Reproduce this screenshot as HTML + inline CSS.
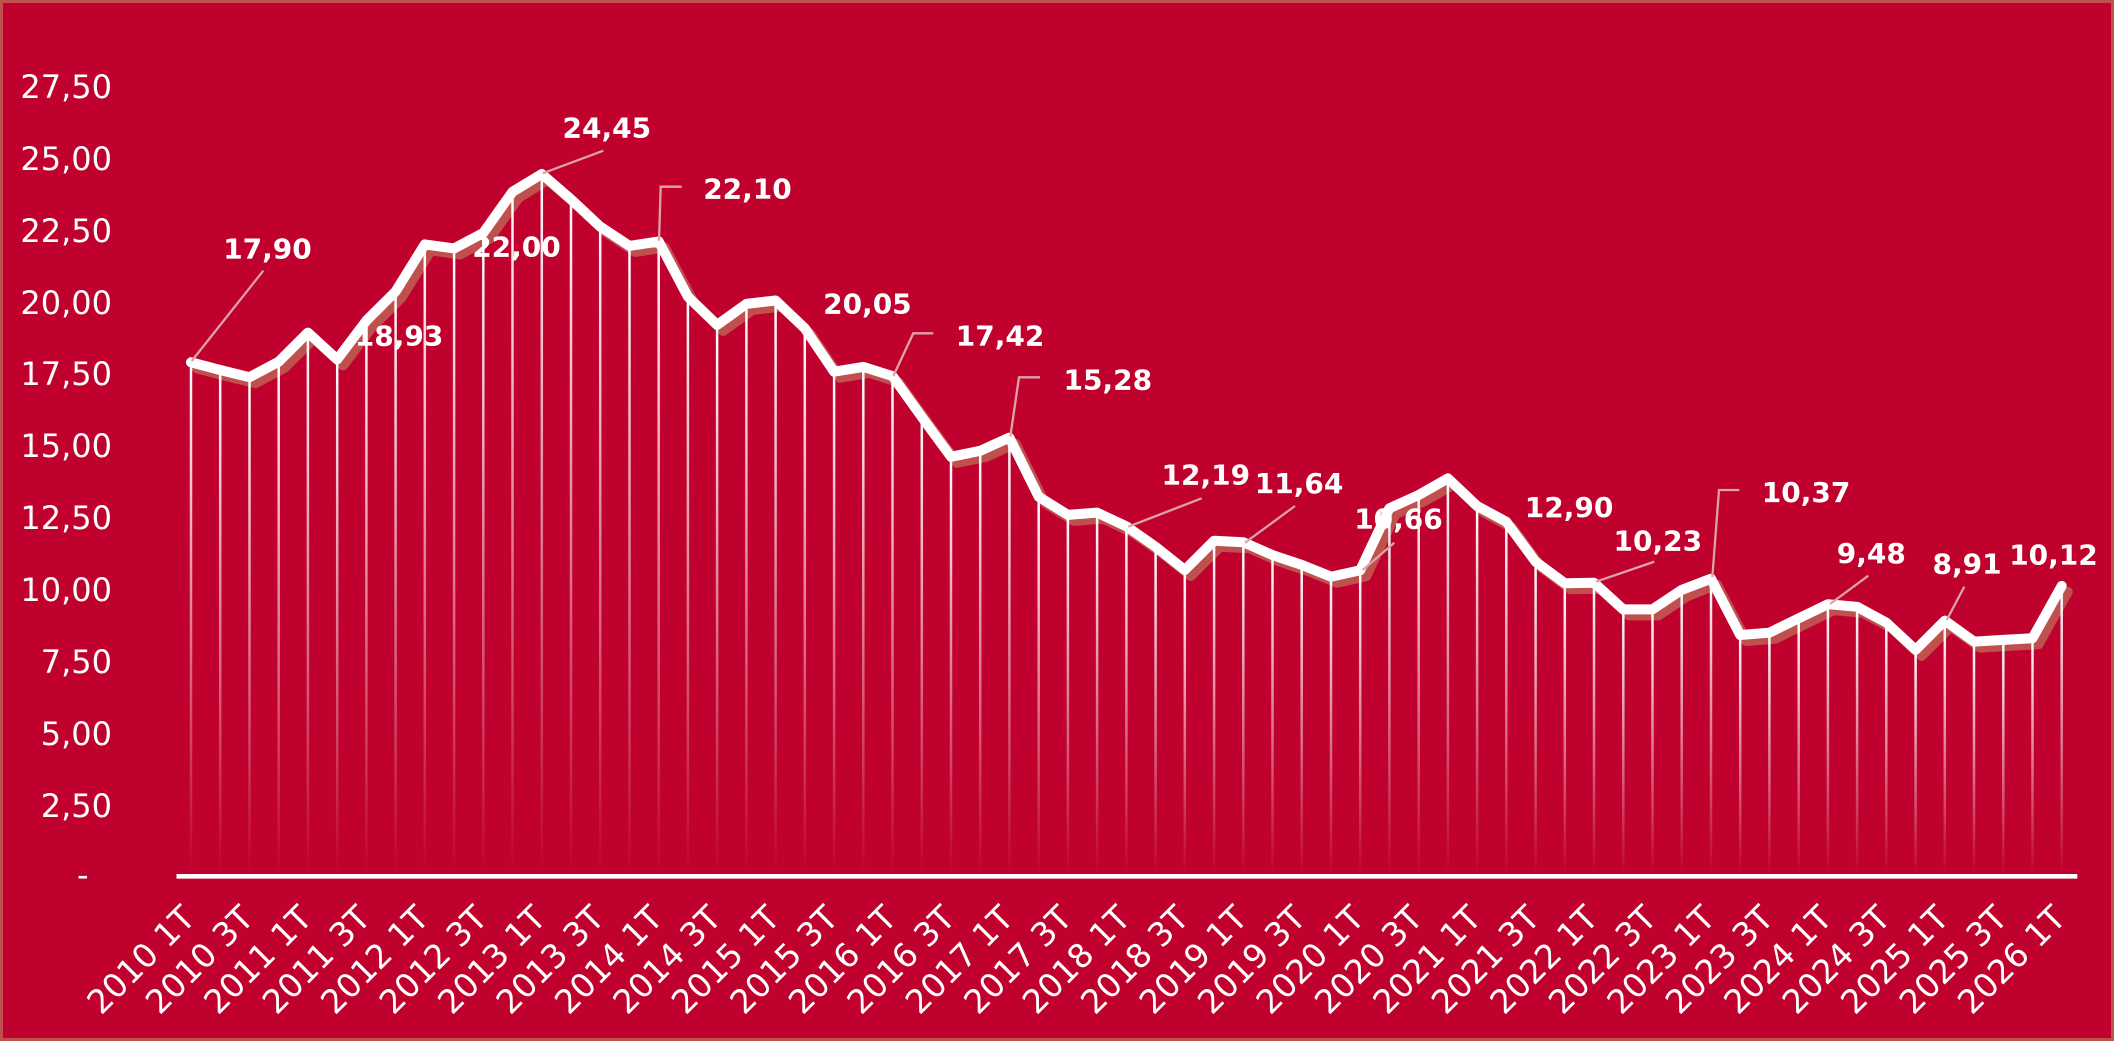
<!DOCTYPE html>
<html>
<head>
<meta charset="utf-8">
<style>
  html, body { margin: 0; padding: 0; background: #C0002D; }
  svg { display: block; }
  .yl { font-family: "DejaVu Sans", "Liberation Sans", sans-serif; font-size: 32px; fill: #ffffff; }
  .xl { font-family: "DejaVu Sans", "Liberation Sans", sans-serif; font-size: 33px; fill: #ffffff; }
  .dl { font-family: "DejaVu Sans", "Liberation Sans", sans-serif; font-size: 28px; font-weight: bold; fill: #ffffff; }
</style>
</head>
<body>
<svg width="2114" height="1041" viewBox="0 0 2114 1041" xmlns="http://www.w3.org/2000/svg">
  <defs>
    <linearGradient id="fade" x1="0" y1="0" x2="0" y2="1">
      <stop offset="0" stop-color="#ffffff" stop-opacity="1"/>
      <stop offset="1" stop-color="#ffffff" stop-opacity="0"/>
    </linearGradient>
  </defs>
  <rect x="0" y="0" width="2114" height="1041" fill="#C0002D"/>
  <rect x="1.5" y="1.5" width="2111" height="1038" fill="none" stroke="#C0504D" stroke-width="3"/>

  <!-- Y axis labels -->
  <g class="yl" text-anchor="end">
    <text x="112" y="98">27,50</text>
    <text x="112" y="170">25,00</text>
    <text x="112" y="242">22,50</text>
    <text x="112" y="314">20,00</text>
    <text x="112" y="385">17,50</text>
    <text x="112" y="457">15,00</text>
    <text x="112" y="529">12,50</text>
    <text x="112" y="601">10,00</text>
    <text x="112" y="673">7,50</text>
    <text x="112" y="745">5,00</text>
    <text x="112" y="817">2,50</text>
  </g>
  <text class="yl" x="77" y="886">-</text>

  <!-- shadow -->
  <polyline transform="translate(6,6)" fill="none" stroke="#C0504D" stroke-width="10" stroke-linejoin="round" stroke-linecap="round"
    points="191.0,362.3 220.2,370.0 249.5,377.2 278.7,361.7 307.9,332.6 337.2,359.4 366.4,320.6 395.6,291.5 424.8,244.4 454.1,248.4 483.3,232.9 512.5,191.8 541.8,174.0 571.0,199.3 600.2,226.6 629.5,245.9 658.7,241.5 687.9,296.7 717.1,324.9 746.4,303.9 775.6,300.5 804.8,328.3 834.1,371.7 863.3,366.9 892.5,376.1 921.8,416.9 951.0,456.8 980.2,450.8 1009.4,437.6 1038.7,496.8 1067.9,514.9 1097.1,512.6 1126.4,526.4 1155.6,546.8 1184.8,570.0 1214.1,540.7 1243.3,542.2 1272.5,555.1 1301.7,564.9 1331.0,576.7 1360.2,570.3 1389.4,508.3 1418.7,495.0 1447.9,478.4 1477.1,506.0 1506.3,521.8 1535.6,561.7 1564.8,583.3 1594.0,582.7 1623.3,609.4 1652.5,609.4 1681.7,589.9 1711.0,578.7 1740.2,635.0 1769.4,632.7 1798.7,618.3 1827.9,604.2 1857.1,606.8 1886.3,622.6 1915.6,649.9 1944.8,620.6 1974.0,641.6 2003.3,639.9 2032.5,638.2 2061.7,585.9"/>

  <!-- drop lines -->
  <g fill="url(#fade)">
    <rect x="189.75" y="362.3" width="2.5" height="513.7"/>
    <rect x="218.95" y="370.0" width="2.5" height="506.0"/>
    <rect x="248.25" y="377.2" width="2.5" height="498.8"/>
    <rect x="277.45" y="361.7" width="2.5" height="514.3"/>
    <rect x="306.65" y="332.6" width="2.5" height="543.4"/>
    <rect x="335.95" y="359.4" width="2.5" height="516.6"/>
    <rect x="365.15" y="320.6" width="2.5" height="555.4"/>
    <rect x="394.35" y="291.5" width="2.5" height="584.5"/>
    <rect x="423.55" y="244.4" width="2.5" height="631.6"/>
    <rect x="452.85" y="248.4" width="2.5" height="627.6"/>
    <rect x="482.05" y="232.9" width="2.5" height="643.1"/>
    <rect x="511.25" y="191.8" width="2.5" height="684.2"/>
    <rect x="540.55" y="174.0" width="2.5" height="702.0"/>
    <rect x="569.75" y="199.3" width="2.5" height="676.7"/>
    <rect x="598.95" y="226.6" width="2.5" height="649.4"/>
    <rect x="628.25" y="245.9" width="2.5" height="630.1"/>
    <rect x="657.45" y="241.5" width="2.5" height="634.5"/>
    <rect x="686.65" y="296.7" width="2.5" height="579.3"/>
    <rect x="715.85" y="324.9" width="2.5" height="551.1"/>
    <rect x="745.15" y="303.9" width="2.5" height="572.1"/>
    <rect x="774.35" y="300.5" width="2.5" height="575.5"/>
    <rect x="803.55" y="328.3" width="2.5" height="547.7"/>
    <rect x="832.85" y="371.7" width="2.5" height="504.3"/>
    <rect x="862.05" y="366.9" width="2.5" height="509.1"/>
    <rect x="891.25" y="376.1" width="2.5" height="499.9"/>
    <rect x="920.55" y="416.9" width="2.5" height="459.1"/>
    <rect x="949.75" y="456.8" width="2.5" height="419.2"/>
    <rect x="978.95" y="450.8" width="2.5" height="425.2"/>
    <rect x="1008.15" y="437.6" width="2.5" height="438.4"/>
    <rect x="1037.45" y="496.8" width="2.5" height="379.2"/>
    <rect x="1066.65" y="514.9" width="2.5" height="361.1"/>
    <rect x="1095.85" y="512.6" width="2.5" height="363.4"/>
    <rect x="1125.15" y="526.4" width="2.5" height="349.6"/>
    <rect x="1154.35" y="546.8" width="2.5" height="329.2"/>
    <rect x="1183.55" y="570.0" width="2.5" height="306.0"/>
    <rect x="1212.85" y="540.7" width="2.5" height="335.3"/>
    <rect x="1242.05" y="542.2" width="2.5" height="333.8"/>
    <rect x="1271.25" y="555.1" width="2.5" height="320.9"/>
    <rect x="1300.45" y="564.9" width="2.5" height="311.1"/>
    <rect x="1329.75" y="576.7" width="2.5" height="299.3"/>
    <rect x="1358.95" y="570.3" width="2.5" height="305.7"/>
    <rect x="1388.15" y="508.3" width="2.5" height="367.7"/>
    <rect x="1417.45" y="495.0" width="2.5" height="381.0"/>
    <rect x="1446.65" y="478.4" width="2.5" height="397.6"/>
    <rect x="1475.85" y="506.0" width="2.5" height="370.0"/>
    <rect x="1505.05" y="521.8" width="2.5" height="354.2"/>
    <rect x="1534.35" y="561.7" width="2.5" height="314.3"/>
    <rect x="1563.55" y="583.3" width="2.5" height="292.7"/>
    <rect x="1592.75" y="582.7" width="2.5" height="293.3"/>
    <rect x="1622.05" y="609.4" width="2.5" height="266.6"/>
    <rect x="1651.25" y="609.4" width="2.5" height="266.6"/>
    <rect x="1680.45" y="589.9" width="2.5" height="286.1"/>
    <rect x="1709.75" y="578.7" width="2.5" height="297.3"/>
    <rect x="1738.95" y="635.0" width="2.5" height="241.0"/>
    <rect x="1768.15" y="632.7" width="2.5" height="243.3"/>
    <rect x="1797.45" y="618.3" width="2.5" height="257.7"/>
    <rect x="1826.65" y="604.2" width="2.5" height="271.8"/>
    <rect x="1855.85" y="606.8" width="2.5" height="269.2"/>
    <rect x="1885.05" y="622.6" width="2.5" height="253.4"/>
    <rect x="1914.35" y="649.9" width="2.5" height="226.1"/>
    <rect x="1943.55" y="620.6" width="2.5" height="255.4"/>
    <rect x="1972.75" y="641.6" width="2.5" height="234.4"/>
    <rect x="2002.05" y="639.9" width="2.5" height="236.1"/>
    <rect x="2031.25" y="638.2" width="2.5" height="237.8"/>
    <rect x="2060.45" y="585.9" width="2.5" height="290.1"/>
  </g>

  <!-- data labels (under the line) -->
  <g class="dl">
    <text x="223.2" y="258.7">17,90</text>
    <text x="354.8" y="345.4">18,93</text>
    <text x="472.2" y="256.7">22,00</text>
    <text x="562.5" y="137.7">24,45</text>
    <text x="703.2" y="198.4">22,10</text>
    <text x="823.1" y="313.4">20,05</text>
    <text x="955.8" y="345.4">17,42</text>
    <text x="1063.5" y="389.7">15,28</text>
    <text x="1161.5" y="484.7">12,19</text>
    <text x="1254.8" y="493.1">11,64</text>
    <text x="1354.2" y="528.7">10,66</text>
    <text x="1524.8" y="517.1">12,90</text>
    <text x="1613.5" y="550.4">10,23</text>
    <text x="1761.8" y="502.1">10,37</text>
    <text x="1836.8" y="563.1">9,48</text>
    <text x="1932.5" y="573.7">8,91</text>
    <text x="2009.2" y="564.4">10,12</text>
  </g>

  <!-- main line -->
  <polyline fill="none" stroke="#ffffff" stroke-width="10" stroke-linejoin="round" stroke-linecap="round"
    points="191.0,362.3 220.2,370.0 249.5,377.2 278.7,361.7 307.9,332.6 337.2,359.4 366.4,320.6 395.6,291.5 424.8,244.4 454.1,248.4 483.3,232.9 512.5,191.8 541.8,174.0 571.0,199.3 600.2,226.6 629.5,245.9 658.7,241.5 687.9,296.7 717.1,324.9 746.4,303.9 775.6,300.5 804.8,328.3 834.1,371.7 863.3,366.9 892.5,376.1 921.8,416.9 951.0,456.8 980.2,450.8 1009.4,437.6 1038.7,496.8 1067.9,514.9 1097.1,512.6 1126.4,526.4 1155.6,546.8 1184.8,570.0 1214.1,540.7 1243.3,542.2 1272.5,555.1 1301.7,564.9 1331.0,576.7 1360.2,570.3 1389.4,508.3 1418.7,495.0 1447.9,478.4 1477.1,506.0 1506.3,521.8 1535.6,561.7 1564.8,583.3 1594.0,582.7 1623.3,609.4 1652.5,609.4 1681.7,589.9 1711.0,578.7 1740.2,635.0 1769.4,632.7 1798.7,618.3 1827.9,604.2 1857.1,606.8 1886.3,622.6 1915.6,649.9 1944.8,620.6 1974.0,641.6 2003.3,639.9 2032.5,638.2 2061.7,585.9"/>

  <!-- leader lines -->
  <g fill="none" stroke="#DCA3A8" stroke-width="2.3">
    <line x1="263.3" y1="270.7" x2="191.7" y2="361"/>
    <line x1="603.3" y1="150.7" x2="542.7" y2="173.3"/>
    <polyline points="681.7,186.7 660.7,186.7 659,240.7"/>
    <polyline points="933.3,333.3 913.3,333.3 893.3,376"/>
    <polyline points="1040,377.3 1019,377.3 1010.3,436.7"/>
    <line x1="1201.7" y1="498.3" x2="1128.3" y2="526.7"/>
    <line x1="1295" y1="506" x2="1245" y2="542.7"/>
    <line x1="1394.3" y1="542.7" x2="1362.7" y2="570"/>
    <line x1="1654.3" y1="561.7" x2="1596" y2="581.7"/>
    <polyline points="1739.3,490 1719,490 1712.3,577.3"/>
    <line x1="1868.3" y1="575.7" x2="1830" y2="604"/>
    <line x1="1964.3" y1="586.7" x2="1946.7" y2="620"/>
  </g>

  <!-- x axis -->
  <line x1="176.5" y1="876.3" x2="2077.3" y2="876.3" stroke="#ffffff" stroke-width="4.6"/>

  <!-- x axis labels -->
  <g class="xl" text-anchor="end">
    <text x="197.0" y="920" transform="rotate(-45 197.0 920)">2010 1T</text>
    <text x="255.5" y="920" transform="rotate(-45 255.5 920)">2010 3T</text>
    <text x="313.9" y="920" transform="rotate(-45 313.9 920)">2011 1T</text>
    <text x="372.4" y="920" transform="rotate(-45 372.4 920)">2011 3T</text>
    <text x="430.8" y="920" transform="rotate(-45 430.8 920)">2012 1T</text>
    <text x="489.3" y="920" transform="rotate(-45 489.3 920)">2012 3T</text>
    <text x="547.8" y="920" transform="rotate(-45 547.8 920)">2013 1T</text>
    <text x="606.2" y="920" transform="rotate(-45 606.2 920)">2013 3T</text>
    <text x="664.7" y="920" transform="rotate(-45 664.7 920)">2014 1T</text>
    <text x="723.1" y="920" transform="rotate(-45 723.1 920)">2014 3T</text>
    <text x="781.6" y="920" transform="rotate(-45 781.6 920)">2015 1T</text>
    <text x="840.1" y="920" transform="rotate(-45 840.1 920)">2015 3T</text>
    <text x="898.5" y="920" transform="rotate(-45 898.5 920)">2016 1T</text>
    <text x="957.0" y="920" transform="rotate(-45 957.0 920)">2016 3T</text>
    <text x="1015.4" y="920" transform="rotate(-45 1015.4 920)">2017 1T</text>
    <text x="1073.9" y="920" transform="rotate(-45 1073.9 920)">2017 3T</text>
    <text x="1132.4" y="920" transform="rotate(-45 1132.4 920)">2018 1T</text>
    <text x="1190.8" y="920" transform="rotate(-45 1190.8 920)">2018 3T</text>
    <text x="1249.3" y="920" transform="rotate(-45 1249.3 920)">2019 1T</text>
    <text x="1307.7" y="920" transform="rotate(-45 1307.7 920)">2019 3T</text>
    <text x="1366.2" y="920" transform="rotate(-45 1366.2 920)">2020 1T</text>
    <text x="1424.7" y="920" transform="rotate(-45 1424.7 920)">2020 3T</text>
    <text x="1483.1" y="920" transform="rotate(-45 1483.1 920)">2021 1T</text>
    <text x="1541.6" y="920" transform="rotate(-45 1541.6 920)">2021 3T</text>
    <text x="1600.0" y="920" transform="rotate(-45 1600.0 920)">2022 1T</text>
    <text x="1658.5" y="920" transform="rotate(-45 1658.5 920)">2022 3T</text>
    <text x="1717.0" y="920" transform="rotate(-45 1717.0 920)">2023 1T</text>
    <text x="1775.4" y="920" transform="rotate(-45 1775.4 920)">2023 3T</text>
    <text x="1833.9" y="920" transform="rotate(-45 1833.9 920)">2024 1T</text>
    <text x="1892.3" y="920" transform="rotate(-45 1892.3 920)">2024 3T</text>
    <text x="1950.8" y="920" transform="rotate(-45 1950.8 920)">2025 1T</text>
    <text x="2009.3" y="920" transform="rotate(-45 2009.3 920)">2025 3T</text>
    <text x="2067.7" y="920" transform="rotate(-45 2067.7 920)">2026 1T</text>
  </g>
</svg>
</body>
</html>
